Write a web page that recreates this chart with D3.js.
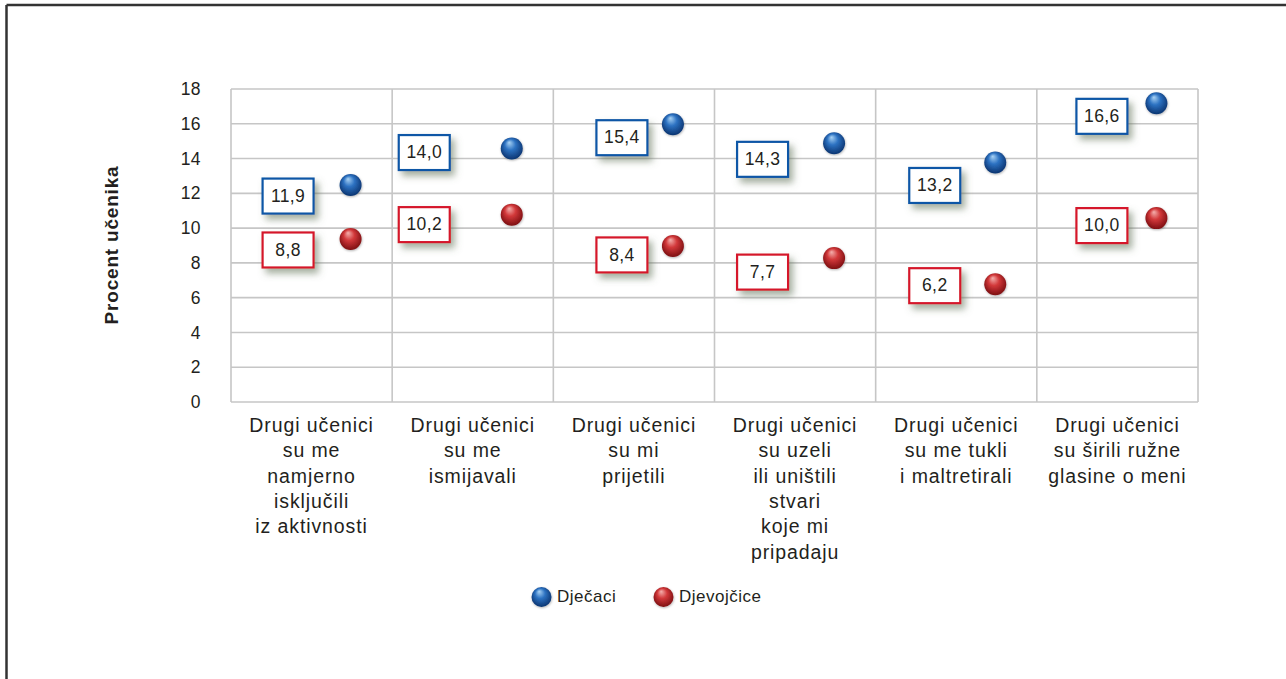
<!DOCTYPE html>
<html>
<head>
<meta charset="utf-8">
<script src="https://cdn.jsdelivr.net/npm/d3@7"></script>
<style>
  html, body { margin: 0; padding: 0; background: #fff; }
  svg { display: block; font-family: "Liberation Sans", Arial, Helvetica, sans-serif; }
</style>
</head>
<body>
<svg id="chart" width="1286" height="679"></svg>
<script>
// ---- data ----
const categories = [
  ["Drugi učenici", "su me", "namjerno", "isključili", "iz aktivnosti"],
  ["Drugi učenici", "su me", "ismijavali"],
  ["Drugi učenici", "su mi", "prijetili"],
  ["Drugi učenici", "su uzeli", "ili uništili", "stvari", "koje mi", "pripadaju"],
  ["Drugi učenici", "su me tukli", "i maltretirali"],
  ["Drugi učenici", "su širili ružne", "glasine o meni"]
];
const seriesNames = ["Dječaci", "Djevojčice"];
const boys = [11.9, 14.0, 15.4, 14.3, 13.2, 16.6];
const girls = [8.8, 10.2, 8.4, 7.7, 6.2, 10.0];
const yTicks = [0, 2, 4, 6, 8, 10, 12, 14, 16, 18];
const yTitle = "Procent učenika";

// ---- layout ----
const svg = d3.select("#chart");
const W = 1286, H = 679;
const plot = { left: 231, right: 1198, top: 89, bottom: 402 };
// annotation (label box) nudges, in pixels, as placed in the original
const labelNudgeX = [-23.5, -48.5, -12, -32.5, -21.5, -15.5];
const labelNudgeY = [[1, -6, 3.5, 6, 13, 3], [1, 0, -1, 4, -8.5, -2.5]];

const x = d3.scaleBand().domain(d3.range(categories.length))
  .range([plot.left, plot.right]).padding(0);
const y = d3.scaleLinear().domain([0, 18]).range([plot.bottom, plot.top]);

const defs = svg.append("defs");
function sphereGrad(id, hi, mid, edge) {
  const g = defs.append("radialGradient").attr("id", id)
    .attr("cx", "50%").attr("cy", "45%").attr("r", "55%")
    .attr("fx", "38%").attr("fy", "22%");
  g.append("stop").attr("offset", "0%").attr("stop-color", hi);
  g.append("stop").attr("offset", "45%").attr("stop-color", mid);
  g.append("stop").attr("offset", "100%").attr("stop-color", edge);
}
sphereGrad("gBlue", "#a9d3f5", "#2d72c2", "#0b3470");
sphereGrad("gRed", "#f4b0ad", "#d2383a", "#7d0f12");

const f = defs.append("filter").attr("id", "shadow")
  .attr("x", "-30%").attr("y", "-30%").attr("width", "170%").attr("height", "180%");
f.append("feDropShadow").attr("dx", 4).attr("dy", 5).attr("stdDeviation", 3.5)
  .attr("flood-color", "#5d6e52").attr("flood-opacity", 0.55);

const ds = defs.append("filter").attr("id", "dotShadow")
  .attr("x", "-50%").attr("y", "-50%").attr("width", "200%").attr("height", "200%");
ds.append("feDropShadow").attr("dx", 0.5).attr("dy", 1).attr("stdDeviation", 0.8)
  .attr("flood-color", "#000").attr("flood-opacity", 0.3);

// outer frame (top and left edges)
svg.append("line").attr("x1", 6.5).attr("x2", W).attr("y1", 5).attr("y2", 5)
  .attr("stroke", "#333").attr("stroke-width", 2.5);
svg.append("line").attr("x1", 6.5).attr("x2", 6.5).attr("y1", 5).attr("y2", H)
  .attr("stroke", "#333").attr("stroke-width", 2.5);

// gridlines
const grid = svg.append("g").attr("stroke", "#c6c6c6").attr("stroke-width", 1.6);
grid.selectAll("line.h").data(yTicks).join("line")
  .attr("x1", plot.left).attr("x2", plot.right)
  .attr("y1", d => y(d)).attr("y2", d => y(d));
const vx = d3.range(categories.length + 1).map(i =>
  i < categories.length ? x(i) : x(categories.length - 1) + x.bandwidth());
grid.selectAll("line.v").data(vx).join("line")
  .attr("x1", d => d).attr("x2", d => d)
  .attr("y1", plot.top).attr("y2", plot.bottom);

// y axis labels
const yAxis = d3.axisLeft(y).tickValues(yTicks).tickSize(0).tickPadding(30)
  .tickFormat(d3.format("d"));
const yg = svg.append("g").attr("transform", `translate(${plot.left},0)`).call(yAxis);
yg.select(".domain").remove();
yg.selectAll("text").attr("font-size", 17.5).attr("fill", "#231f20")
  .attr("font-family", "Liberation Sans, Arial, sans-serif").attr("letter-spacing", 0.4);

// y title
svg.append("text")
  .attr("transform", `translate(113,245) rotate(-90)`)
  .attr("text-anchor", "middle").attr("dominant-baseline", "middle")
  .attr("font-size", 19).attr("font-weight", "bold").attr("fill", "#231f20")
  .attr("letter-spacing", 0.8)
  .text(yTitle);

// x labels
const xl = svg.append("g");
categories.forEach((lines, i) => {
  const t = xl.append("text")
    .attr("x", x(i) + x.bandwidth() / 2).attr("y", 432)
    .attr("text-anchor", "middle").attr("font-size", 19.5)
    .attr("letter-spacing", 0.9).attr("fill", "#231f20");
  lines.forEach((ln, j) => {
    t.append("tspan").attr("x", x(i) + x.bandwidth() / 2)
      .attr("dy", j === 0 ? 0 : 25.3).text(ln);
  });
});

// data label boxes and points
const dotDX = 39, dotDY = -10;
const fmt = v => d3.format(".1f")(v).replace(".", ",");
const series = [
  { vals: boys, stroke: "#0c56a6", grad: "url(#gBlue)" },
  { vals: girls, stroke: "#d5182a", grad: "url(#gRed)" }
];
series.forEach((s, si) => {
  const g = svg.append("g");
  s.vals.forEach((v, i) => {
    const cx = x(i) + x.bandwidth() / 2;
    const bx = cx + labelNudgeX[i], by = y(v) + labelNudgeY[si][i];
    g.append("rect").attr("x", bx - 25.5).attr("y", by - 17.5)
      .attr("width", 51).attr("height", 35)
      .attr("fill", "#fff").attr("stroke", s.stroke).attr("stroke-width", 2.2)
      .attr("filter", "url(#shadow)");
    g.append("text").attr("x", bx).attr("y", by + 1)
      .attr("text-anchor", "middle").attr("dominant-baseline", "middle")
      .attr("font-size", 17.5).attr("letter-spacing", 0.4).attr("fill", "#231f20")
      .text(fmt(v));
    g.append("circle").attr("cx", cx + dotDX).attr("cy", y(v) + dotDY).attr("r", 11)
      .attr("fill", s.grad).attr("filter", "url(#dotShadow)");
  });
});

// legend
const lg = svg.append("g");
const legendItems = [
  { name: seriesNames[0], grad: "url(#gBlue)", cx: 541.5, tx: 557 },
  { name: seriesNames[1], grad: "url(#gRed)", cx: 663.5, tx: 679 }
];
legendItems.forEach(it => {
  lg.append("circle").attr("cx", it.cx).attr("cy", 597).attr("r", 10)
    .attr("fill", it.grad).attr("filter", "url(#dotShadow)");
  lg.append("text").attr("x", it.tx).attr("y", 598)
    .attr("dominant-baseline", "middle").attr("font-size", 17)
    .attr("letter-spacing", 0.5).attr("fill", "#231f20").text(it.name);
});
</script>
</body>
</html>
